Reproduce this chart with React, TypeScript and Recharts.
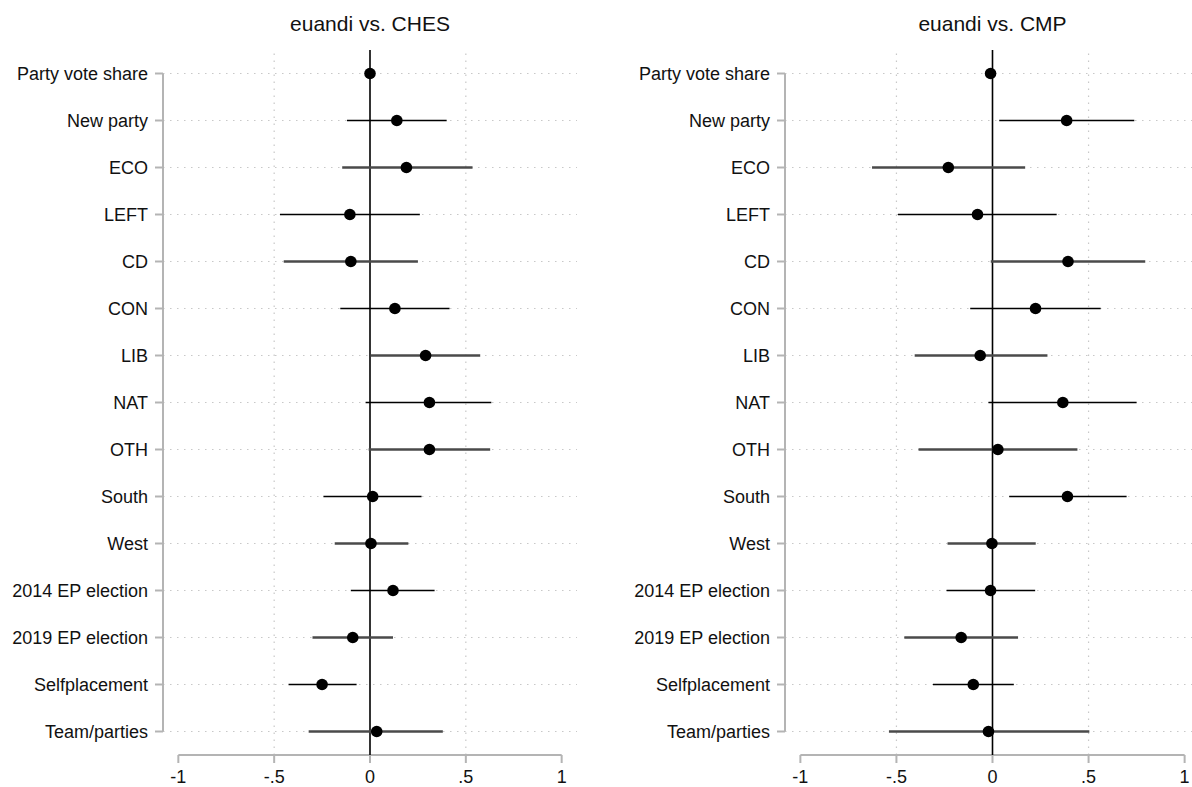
import {
  ScatterChart,
  Scatter,
  ErrorBar,
  XAxis,
  YAxis,
  ReferenceLine,
} from "recharts";

const labels = [
  "Party vote share",
  "New party",
  "ECO",
  "LEFT",
  "CD",
  "CON",
  "LIB",
  "NAT",
  "OTH",
  "South",
  "West",
  "2014 EP election",
  "2019 EP election",
  "Selfplacement",
  "Team/parties",
];

// euandi vs. CHES
const chesEst = [0.0, 0.14, 0.19, -0.105, -0.1, 0.13, 0.29, 0.31, 0.31, 0.014, 0.005, 0.12, -0.09, -0.25, 0.035];
const chesLo = [-0.01, -0.12, -0.145, -0.47, -0.45, -0.155, 0.003, -0.023, -0.007, -0.243, -0.184, -0.1, -0.3, -0.425, -0.32];
const chesHi = [0.01, 0.4, 0.535, 0.26, 0.25, 0.415, 0.575, 0.633, 0.627, 0.269, 0.2, 0.337, 0.12, -0.07, 0.38];

// euandi vs. CMP
const cmpEst = [-0.01, 0.386, -0.23, -0.078, 0.393, 0.224, -0.064, 0.366, 0.028, 0.39, -0.003, -0.01, -0.163, -0.1, -0.021];
const cmpLo = [-0.02, 0.035, -0.627, -0.492, -0.009, -0.116, -0.405, -0.021, -0.385, 0.087, -0.234, -0.239, -0.459, -0.31, -0.539];
const cmpHi = [0.0, 0.738, 0.17, 0.334, 0.795, 0.563, 0.286, 0.75, 0.442, 0.698, 0.225, 0.222, 0.133, 0.111, 0.504];

const xTicks = [-1, -0.5, 0, 0.5, 1];
const xGrid = [-0.5, 0.5];

const FONT = "'Liberation Sans', Arial, sans-serif";
const AXIS = "#b4b4b4";
const GRID = "#c8c8c8";
const TEXT = "#111";
const X_MIN = -1.08;
const X_MAX = 1.08;

const fmtX = (v: number) => {
  if (v === 0) return "0";
  const s = String(Math.abs(v)).replace(/^0/, "");
  return v < 0 ? `-${s}` : s;
};

const dot = (props: any) => <circle cx={props.cx} cy={props.cy} r={5.8} fill="#000" />;

interface PanelProps {
  title: string;
  est: number[];
  lo: number[];
  hi: number[];
  left: number;
  width: number;
  yWidth: number;
  marginRight: number;
}

function Panel({ title, est, lo, hi, left, width, yWidth, marginRight }: PanelProps) {
  const rows = labels.map((label, i) => ({
    idx: i,
    label,
    est: est[i],
    err: [est[i] - lo[i], hi[i] - est[i]],
  }));
  const evenRows = rows.filter((r) => r.idx % 2 === 0);
  const oddRows = rows.filter((r) => r.idx % 2 === 1);
  const plotCenter = yWidth + (width - yWidth - marginRight) / 2;

  return (
    <div style={{ position: "absolute", left, top: 0, width, height: 787 }}>
      <div
        style={{
          position: "absolute",
          top: 13,
          left: plotCenter - 150,
          width: 300,
          textAlign: "center",
          fontFamily: FONT,
          fontSize: 21,
          lineHeight: "21px",
          color: TEXT,
        }}
      >
        {title}
      </div>
      <ScatterChart width={width} height={787} margin={{ top: 50, right: marginRight, bottom: 0, left: 0 }}>
        {rows.map((r) => (
          <ReferenceLine key={`h${r.idx}`} y={r.idx} stroke={GRID} strokeDasharray="1.5 5.5" strokeWidth={1.2} />
        ))}
        {xGrid.map((g) => (
          <ReferenceLine key={`v${g}`} x={g} stroke={GRID} strokeDasharray="1.5 5.5" strokeWidth={1.2} />
        ))}
        <XAxis
          type="number"
          dataKey="est"
          domain={[X_MIN, X_MAX]}
          allowDataOverflow
          ticks={xTicks}
          tickFormatter={fmtX}
          axisLine={false}
          tickLine={{ stroke: AXIS, strokeWidth: 2 }}
          tickSize={8}
          tickMargin={7}
          height={32}
          tick={{ fill: TEXT, fontSize: 18, fontFamily: FONT }}
        />
        <YAxis
          type="number"
          dataKey="idx"
          domain={[-0.5, labels.length - 0.5]}
          allowDataOverflow
          reversed
          ticks={labels.map((_, i) => i)}
          interval={0}
          tickFormatter={(i: number) => labels[i]}
          axisLine={false}
          tickLine={{ stroke: AXIS, strokeWidth: 2 }}
          tickSize={8}
          tickMargin={7}
          width={yWidth}
          tick={{ fill: TEXT, fontSize: 18, fontFamily: FONT }}
        />
        <ReferenceLine
          segment={[
            { x: -1, y: labels.length - 0.5 },
            { x: 1, y: labels.length - 0.5 },
          ]}
          stroke={AXIS}
          strokeWidth={2}
          ifOverflow="visible"
        />
        <ReferenceLine
          segment={[
            { x: X_MIN, y: 0 },
            { x: X_MIN, y: labels.length - 1 },
          ]}
          stroke={AXIS}
          strokeWidth={2}
          ifOverflow="visible"
        />
        <ReferenceLine x={0} stroke="#000" strokeWidth={1.6} />
        <Scatter data={evenRows} shape={dot} isAnimationActive={false}>
          <ErrorBar dataKey="err" direction="x" width={0} stroke="#4a4a4a" strokeWidth={2.6} />
        </Scatter>
        <Scatter data={oddRows} shape={dot} isAnimationActive={false}>
          <ErrorBar dataKey="err" direction="x" width={0} stroke="#000" strokeWidth={1.6} />
        </Scatter>
      </ScatterChart>
    </div>
  );
}

export default function App() {
  return (
    <div
      style={{
        position: "absolute",
        top: 0,
        left: 0,
        width: 1192,
        height: 787,
        overflow: "hidden",
        background: "#fff",
      }}
    >
      <Panel title="euandi vs. CHES" est={chesEst} lo={chesLo} hi={chesHi} left={0} width={600} yWidth={163} marginRight={23} />
      <Panel title="euandi vs. CMP" est={cmpEst} lo={cmpLo} hi={cmpHi} left={600} width={600} yWidth={185} marginRight={0} />
    </div>
  );
}
